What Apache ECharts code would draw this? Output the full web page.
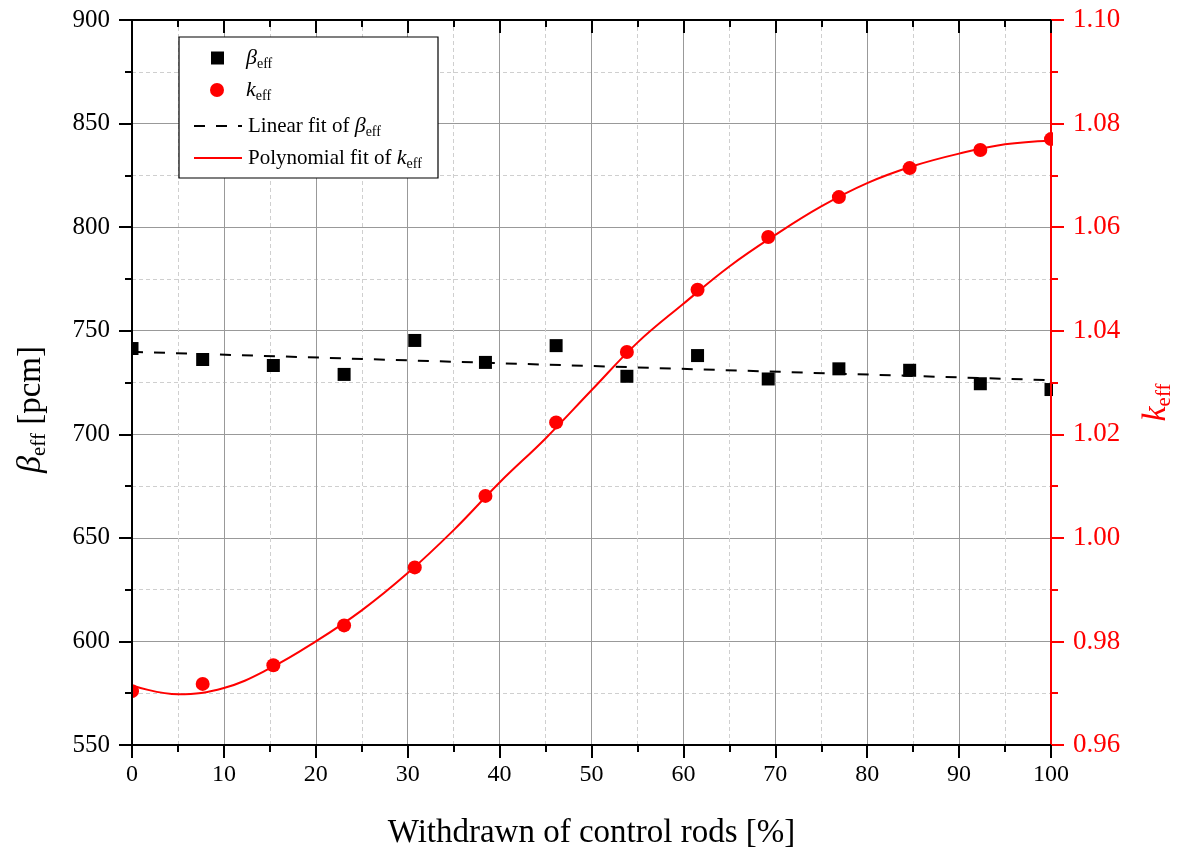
<!DOCTYPE html>
<html>
<head>
<meta charset="utf-8">
<script src="https://cdn.jsdelivr.net/npm/echarts@6/dist/echarts.min.js"></script>
<style>
html,body{margin:0;padding:0;background:#fff;}
#chart{width:1185px;height:855px;}
</style>
</head>
<body>
<div id="chart"></div>
<script>
// ---- data ----
const xValues = [0, 7.69, 15.38, 23.08, 30.77, 38.46, 46.15, 53.85, 61.54, 69.23, 76.92, 84.62, 92.31, 100];
const betaEff = [741.4, 736.1, 733.2, 728.9, 745.3, 734.7, 742.8, 728.0, 738.0, 726.7, 731.6, 730.9, 724.4, 721.6];
const kEff = [0.9704, 0.9718, 0.9754, 0.9831, 0.9943, 1.0081, 1.0223, 1.0359, 1.0479, 1.0581, 1.0658, 1.0714, 1.0749, 1.0770];
const linFitX = [0, 100];
const linFitY = [739.8, 726.1];
const polyFitX = [0, 5, 10, 15, 20, 25, 30, 35, 40, 45, 50, 55, 60, 65, 70, 75, 80, 85, 90, 95, 100];
const polyFitY = [0.9715, 0.9698, 0.9710, 0.9748, 0.9800, 0.9860, 0.9932, 1.0015, 1.0107, 1.0192, 1.0285, 1.0377, 1.0452, 1.0524, 1.0585, 1.0640, 1.0685, 1.0718, 1.0742, 1.0760, 1.0767];
const xTitle = 'Withdrawn of control rods [%]';
const nameBeta = 'βeff';
const nameK = 'keff';
const nameLin = 'Linear fit of βeff';
const namePoly = 'Polynomial fit of keff';

const FONT = '"Liberation Serif", "DejaVu Serif", serif';
const zip = (a, b) => a.map((v, i) => [v, b[i]]);

const chart = echarts.init(document.getElementById('chart'));

const richLegend = {
  t: {fontFamily: FONT, fontSize: 21, color: '#000', lineHeight: 26, verticalAlign: 'middle'},
  i: {fontFamily: FONT, fontSize: 22, fontStyle: 'italic', color: '#000', lineHeight: 26, verticalAlign: 'middle'},
  s: {fontFamily: FONT, fontSize: 14, color: '#000', lineHeight: 12, verticalAlign: 'bottom'}
};
const legendLabel = {};
legendLabel[nameBeta] = '{i|β}{s|eff}';
legendLabel[nameK] = '{i|k}{s|eff}';
legendLabel[nameLin] = '{t|Linear fit of }{i|β}{s|eff}';
legendLabel[namePoly] = '{t|Polynomial fit of }{i|k}{s|eff}';

function mkLegend(name, left, centerY, w, h, pad, hideSymbol) {
  const lg = {
    data: [name], left: left, top: centerY - 10, orient: 'vertical',
    itemWidth: w, itemHeight: h, padding: 0, z: 20,
    selectedMode: false,
    formatter: n => legendLabel[n],
    textStyle: {padding: [0, 0, 0, pad], rich: richLegend}
  };
  if (hideSymbol) lg.itemStyle = {opacity: 0};
  return lg;
}

const majorTickLen = 13, minorTickLen = 7;
const gridLeft = 132, gridRight = 134, gridTop = 20, gridBottom = 109;

const option = {
  backgroundColor: '#fff',
  animation: false,
  grid: {left: gridLeft, right: gridRight, top: gridTop, bottom: gridBottom, containLabel: false},
  legend: [
    mkLegend(nameBeta, 211, 57, 13, 13, 17, false),
    mkLegend(nameK, 210, 89, 14, 14, 17, false),
    mkLegend(nameLin, 193, 125, 48, 14, 1, true),
    mkLegend(namePoly, 193, 157, 48, 14, 1, true)
  ],
  graphic: [
    {type: 'rect', z: 15, shape: {x: 179, y: 37, width: 259, height: 141},
     style: {fill: '#fff', stroke: '#000', lineWidth: 1.2}},
    // mask outside plot so edge markers are clipped like the reference
    {type: 'rect', z: 5, shape: {x: 100, y: 0, width: 31, height: 760}, style: {fill: '#fff'}},
    {type: 'rect', z: 5, shape: {x: 1053, y: 0, width: 30, height: 760}, style: {fill: '#fff'}}
  ],
  xAxis: [
    { // grid lines only (below series)
      type: 'value', min: 0, max: 100, interval: 10, position: 'bottom', z: 0,
      axisLine: {show: false}, axisTick: {show: false}, axisLabel: {show: false},
      splitLine: {show: true, lineStyle: {color: '#999', width: 1}},
      minorTick: {show: false, splitNumber: 2},
      minorSplitLine: {show: true, lineStyle: {color: '#cfcfcf', width: 1, type: [4, 3]}}
    },
    { // bottom axis
      type: 'value', min: 0, max: 100, interval: 10, position: 'bottom', z: 10,
      name: xTitle, nameLocation: 'middle', nameGap: 72,
      nameTextStyle: {fontFamily: FONT, fontSize: 33, color: '#000'},
      axisLine: {show: true, onZero: false, lineStyle: {color: '#000', width: 2}},
      axisTick: {show: true, inside: false, length: majorTickLen, lineStyle: {color: '#000', width: 2}},
      minorTick: {show: true, splitNumber: 2, length: minorTickLen, lineStyle: {color: '#000', width: 2}},
      axisLabel: {show: true, margin: 18, fontFamily: FONT, fontSize: 24, color: '#000'},
      splitLine: {show: false}
    },
    { // top axis
      type: 'value', min: 0, max: 100, interval: 10, position: 'top', z: 10,
      axisLine: {show: true, onZero: false, lineStyle: {color: '#000', width: 2}},
      axisTick: {show: true, inside: true, length: majorTickLen, lineStyle: {color: '#000', width: 2}},
      minorTick: {show: true, splitNumber: 2, length: minorTickLen, lineStyle: {color: '#000', width: 2}},
      axisLabel: {show: false},
      splitLine: {show: false}
    }
  ],
  yAxis: [
    { // left, grid lines only
      type: 'value', min: 550, max: 900, interval: 50, position: 'left', z: 0,
      axisLine: {show: false}, axisTick: {show: false}, axisLabel: {show: false},
      splitLine: {show: true, lineStyle: {color: '#999', width: 1}},
      minorTick: {show: false, splitNumber: 2},
      minorSplitLine: {show: true, lineStyle: {color: '#cfcfcf', width: 1, type: [4, 3]}}
    },
    { // left axis
      type: 'value', min: 550, max: 900, interval: 50, position: 'left', z: 10,
      name: '{i|β}{s|eff}{t| [pcm]}', nameLocation: 'middle', nameGap: 82, nameRotate: 90,
      nameTextStyle: {
        padding: [0, 54, 0, 0],
        rich: {
          t: {fontFamily: FONT, fontSize: 33, color: '#000', lineHeight: 38},
          i: {fontFamily: FONT, fontSize: 34, fontStyle: 'italic', color: '#000', lineHeight: 38},
          s: {fontFamily: FONT, fontSize: 21, color: '#000', lineHeight: 16, verticalAlign: 'bottom'}
        }
      },
      axisLine: {show: true, onZero: false, lineStyle: {color: '#000', width: 2}},
      axisTick: {show: true, inside: false, length: majorTickLen, lineStyle: {color: '#000', width: 2}},
      minorTick: {show: true, splitNumber: 2, length: minorTickLen, lineStyle: {color: '#000', width: 2}},
      axisLabel: {show: true, margin: 22, fontFamily: FONT, fontSize: 25, color: '#000'},
      splitLine: {show: false}
    },
    { // right axis
      type: 'value', min: 0.96, max: 1.10, interval: 0.02, position: 'right', z: 10,
      name: '{i|k}{s|eff}', nameLocation: 'middle', nameGap: 86, nameRotate: 90,
      nameTextStyle: {
        padding: [0, 40, 0, 0],
        rich: {
          i: {fontFamily: FONT, fontSize: 34, fontStyle: 'italic', color: '#ff0000', lineHeight: 38},
          s: {fontFamily: FONT, fontSize: 21, color: '#ff0000', lineHeight: 16, verticalAlign: 'bottom'}
        }
      },
      axisLine: {show: true, onZero: false, lineStyle: {color: '#ff0000', width: 2}},
      axisTick: {show: true, inside: false, length: majorTickLen, lineStyle: {color: '#ff0000', width: 2}},
      minorTick: {show: true, splitNumber: 2, length: minorTickLen, lineStyle: {color: '#ff0000', width: 2}},
      axisLabel: {show: true, margin: 22, fontFamily: FONT, fontSize: 27, color: '#ff0000',
        formatter: v => v.toFixed(2)},
      splitLine: {show: false}
    }
  ],
  series: [
    {
      name: nameLin, type: 'line', xAxisIndex: 0, yAxisIndex: 0, z: 2,
      data: zip(linFitX, linFitY), symbol: 'none', showSymbol: false,
      lineStyle: {color: '#000', width: 2, type: [11, 11]},
      itemStyle: {color: '#000'}
    },
    {
      name: namePoly, type: 'line', xAxisIndex: 0, yAxisIndex: 2, z: 2,
      data: zip(polyFitX, polyFitY), smooth: 0.4, symbol: 'none', showSymbol: false,
      lineStyle: {color: '#ff0000', width: 2},
      itemStyle: {color: '#ff0000'}
    },
    {
      name: nameBeta, type: 'scatter', xAxisIndex: 0, yAxisIndex: 0, z: 3,
      data: zip(xValues, betaEff), symbol: 'rect', symbolSize: 13,
      itemStyle: {color: '#000', opacity: 1}
    },
    {
      name: nameK, type: 'scatter', xAxisIndex: 0, yAxisIndex: 2, z: 3,
      data: zip(xValues, kEff), symbol: 'circle', symbolSize: 14,
      itemStyle: {color: '#ff0000', opacity: 1}
    }
  ]
};
chart.setOption(option);
</script>
</body>
</html>
